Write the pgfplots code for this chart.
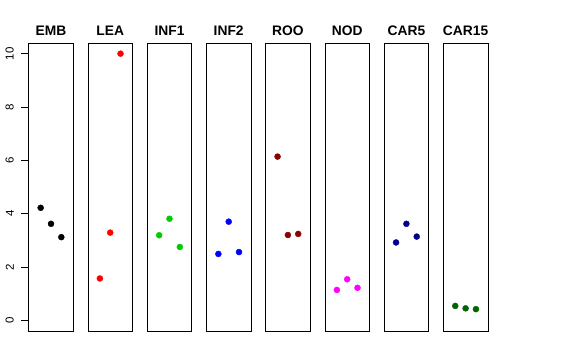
\documentclass[border=0pt]{standalone}
\usepackage{fontspec}
\setmainfont{Liberation Sans}
\usepackage{pgfplots}
\pgfplotsset{compat=1.18}
\definecolor{rgreen}{RGB}{0,205,0}
\definecolor{rdarkred}{RGB}{139,0,0}
\definecolor{rdarkblue}{RGB}{0,0,139}
\definecolor{rdarkgreen}{RGB}{0,100,0}
\definecolor{rmagenta}{RGB}{255,0,255}
\pgfplotsset{
  panel/.style={
    scale only axis, width=44.6pt, height=288pt,
    xmin=-0.16, xmax=4.16, ymin=-0.4, ymax=10.4,
    xtick=\empty, ytick=\empty,
    axis line style={black, line width=0.75pt},
    title style={at={(0.5,1)}, anchor=base, yshift=2pt, font=\bfseries\fontsize{13.8}{16}\selectfont},
    clip=false,
  },
  dots/.style={only marks, mark=*, mark size=3pt, mark options={draw=#1, fill=#1}},
}
\begin{document}
\begin{tikzpicture}
\path[use as bounding box] (0,0) rectangle (576pt,360pt);
\begin{axis}[panel, at={(28.7pt,29pt)}, anchor=south west, title={EMB},
  ytick={0,2,4,6,8,10}, tick align=outside, major tick length=7.2pt,
  ytick pos=left,
  tick style={draw=black, line width=1pt},
  /pgf/number format/assume math mode=true,
  yticklabel style={rotate=90, anchor=south, inner sep=0pt, font=\fontsize{11.5}{13}\selectfont, yshift=7.5pt}]
\addplot[dots=black] coordinates {(1,4.22) (2,3.62) (3,3.12)};
\end{axis}
\begin{axis}[panel, at={(87.9pt,29pt)}, anchor=south west, title={LEA}]
\addplot[dots=red] coordinates {(1,1.57) (2,3.29) (3,10.0)};
\end{axis}
\begin{axis}[panel, at={(147.2pt,29pt)}, anchor=south west, title={INF1}]
\addplot[dots=rgreen] coordinates {(1,3.19) (2,3.81) (3,2.75)};
\end{axis}
\begin{axis}[panel, at={(206.4pt,29pt)}, anchor=south west, title={INF2}]
\addplot[dots=blue] coordinates {(1,2.49) (2,3.70) (3,2.56)};
\end{axis}
\begin{axis}[panel, at={(265.6pt,29pt)}, anchor=south west, title={ROO}]
\addplot[dots=rdarkred] coordinates {(1,6.14) (2,3.20) (3,3.24)};
\end{axis}
\begin{axis}[panel, at={(324.9pt,29pt)}, anchor=south west, title={NOD}]
\addplot[dots=rmagenta] coordinates {(1,1.14) (2,1.54) (3,1.22)};
\end{axis}
\begin{axis}[panel, at={(384.1pt,29pt)}, anchor=south west, title={CAR5}]
\addplot[dots=rdarkblue] coordinates {(1,2.92) (2,3.62) (3,3.14)};
\end{axis}
\begin{axis}[panel, at={(443.3pt,29pt)}, anchor=south west, title={CAR15}]
\addplot[dots=rdarkgreen] coordinates {(1,0.54) (2,0.45) (3,0.42)};
\end{axis}
\end{tikzpicture}
\end{document}
